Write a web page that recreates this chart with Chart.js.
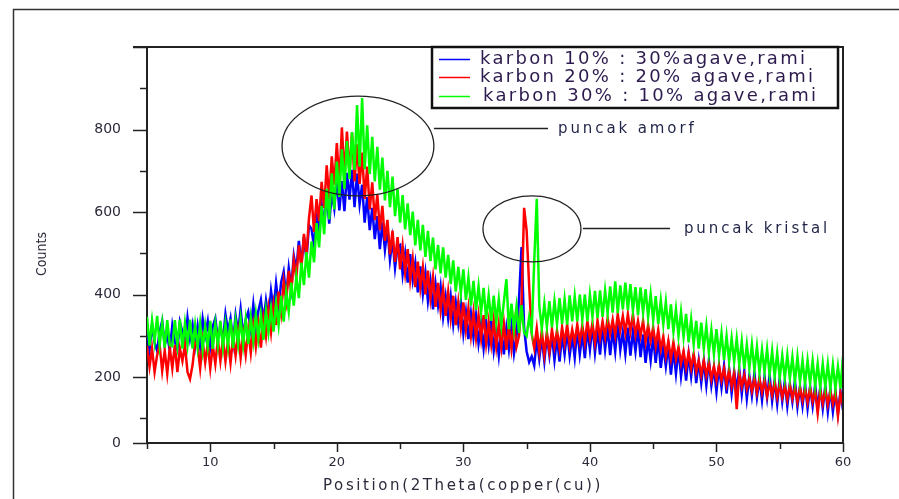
<!DOCTYPE html>
<html><head><meta charset="utf-8">
<script src="https://cdn.jsdelivr.net/npm/chart.js@4.4.0/dist/chart.umd.min.js"></script>
<style>html,body{margin:0;padding:0;background:#fff;overflow:hidden}#wrap{width:899px;height:499px;position:relative}</style>
</head><body><div id="wrap"><canvas id="c" width="899" height="499"></canvas></div>
<script>
const twoTheta = [
5,5.2,5.4,5.6,5.8,6,6.2,6.4,6.6,6.8,
7,7.2,7.4,7.6,7.8,8,8.2,8.4,8.6,8.8,
9,9.2,9.4,9.6,9.8,10,10.2,10.4,10.6,10.8,
11,11.2,11.4,11.6,11.8,12,12.2,12.4,12.6,12.8,
13,13.2,13.4,13.6,13.8,14,14.2,14.4,14.6,14.8,
15,15.2,15.4,15.6,15.8,16,16.2,16.4,16.6,16.8,
17,17.2,17.4,17.6,17.8,18,18.2,18.4,18.6,18.8,
19,19.2,19.4,19.6,19.8,20,20.2,20.4,20.6,20.8,
21,21.2,21.4,21.6,21.8,22,22.2,22.4,22.6,22.8,
23,23.2,23.4,23.6,23.8,24,24.2,24.4,24.6,24.8,
25,25.2,25.4,25.6,25.8,26,26.2,26.4,26.6,26.8,
27,27.2,27.4,27.6,27.8,28,28.2,28.4,28.6,28.8,
29,29.2,29.4,29.6,29.8,30,30.2,30.4,30.6,30.8,
31,31.2,31.4,31.6,31.8,32,32.2,32.4,32.6,32.8,
33,33.2,33.4,33.6,33.8,34,34.2,34.4,34.6,34.8,
35,35.2,35.4,35.6,35.8,36,36.2,36.4,36.6,36.8,
37,37.2,37.4,37.6,37.8,38,38.2,38.4,38.6,38.8,
39,39.2,39.4,39.6,39.8,40,40.2,40.4,40.6,40.8,
41,41.2,41.4,41.6,41.8,42,42.2,42.4,42.6,42.8,
43,43.2,43.4,43.6,43.8,44,44.2,44.4,44.6,44.8,
45,45.2,45.4,45.6,45.8,46,46.2,46.4,46.6,46.8,
47,47.2,47.4,47.6,47.8,48,48.2,48.4,48.6,48.8,
49,49.2,49.4,49.6,49.8,50,50.2,50.4,50.6,50.8,
51,51.2,51.4,51.6,51.8,52,52.2,52.4,52.6,52.8,
53,53.2,53.4,53.6,53.8,54,54.2,54.4,54.6,54.8,
55,55.2,55.4,55.6,55.8,56,56.2,56.4,56.6,56.8,
57,57.2,57.4,57.6,57.8,58,58.2,58.4,58.6,58.8,
59,59.2,59.4,59.6,59.8,60];

const blueCounts = [
310,266,327,283,264,310,336,277,303,264,
325,286,267,333,309,277,343,293,327,275,
323,274,341,300,335,274,323,342,291,322,
287,352,311,342,285,350,308,364,300,340,
358,315,376,315,360,387,335,385,339,409,
363,427,373,429,455,395,464,415,494,459,
530,471,540,485,568,559,516,603,554,619,
566,645,572,647,608,679,604,675,602,695,
630,702,612,693,619,666,574,636,556,610,
534,590,510,574,508,560,484,534,464,516,
520,449,498,429,498,435,476,405,468,401,
452,384,432,364,426,374,419,346,395,342,
395,328,381,330,381,306,357,292,353,296,
349,282,329,270,331,278,336,264,310,252,
316,255,318,267,322,257,300,390,515,320,
262,236,250,228,292,244,296,238,300,252,
302,241,296,237,302,255,312,252,299,247,
316,255,306,246,317,266,326,259,315,254,
326,266,319,253,314,262,332,265,309,256,
320,252,310,262,320,248,303,234,291,240,
297,234,295,222,275,226,277,206,267,208,
269,202,252,191,255,202,256,185,239,186,
240,180,240,180,222,164,226,175,227,160,
220,161,213,168,220,159,214,148,203,155,
210,151,196,144,201,150,205,142,192,135,
196,141,190,130,183,140,191,128,177,130,
183,124,177,130,181,122,175,124,179,116,
171,116,165,112,165,120];

const redCounts = [
275,225,269,212,253,277,215,264,208,271,
221,278,212,269,239,278,212,195,229,284,
276,221,286,235,282,221,276,232,291,239,
292,238,288,234,298,252,309,247,304,254,
313,259,325,273,327,271,343,299,365,309,
375,326,407,356,431,384,457,404,483,440,
519,465,547,493,585,640,552,631,578,673,
610,713,632,735,666,767,672,805,688,795,
694,792,674,764,668,744,632,710,606,672,
580,643,556,615,530,581,497,555,479,539,
461,518,453,510,435,486,418,480,416,466,
400,458,390,442,370,428,362,414,348,406,
342,397,326,381,320,381,315,367,301,357,
295,350,293,350,281,334,280,338,274,328,
272,330,266,326,270,332,274,300,380,610,
555,420,305,270,318,262,312,254,308,262,
315,274,313,270,321,282,327,278,315,284,
327,286,325,284,335,294,331,284,337,296,
335,297,343,305,339,301,352,313,348,307,
352,310,352,302,336,300,336,286,326,288,
320,275,314,267,298,251,287,245,285,243,
273,233,263,223,259,221,256,213,240,205,
240,204,233,195,226,192,228,192,220,182,
216,178,210,122,210,176,204,171,197,166,
196,162,197,163,192,154,185,156,188,151,
184,151,178,146,181,148,175,140,175,143,
172,139,174,141,167,112,169,136,169,133,
166,135,163,106,160,131];

const greenCounts = [
346,276,337,285,348,278,331,271,338,278,
275,338,278,339,269,330,278,339,269,326,
272,330,266,324,274,336,268,329,277,336,
272,329,275,340,270,335,280,340,279,339,
280,344,288,352,294,350,290,361,309,366,
310,379,326,397,334,405,359,429,373,443,
391,477,423,503,441,529,478,573,514,615,
546,656,582,694,606,722,636,752,656,772,
680,794,702,859,710,876,704,810,692,782,
674,758,654,732,628,700,612,686,590,656,
574,641,558,621,544,601,519,581,507,569,
491,554,481,538,461,520,451,514,441,496,
425,483,407,467,403,461,387,441,373,433,
363,420,357,416,341,398,336,397,333,388,
324,382,437,316,378,316,371,307,374,308,
300,345,310,480,632,372,318,378,322,384,
320,384,329,391,328,388,327,398,335,396,
335,400,339,400,335,400,346,409,343,410,
346,410,354,420,356,432,355,422,364,429,
362,425,361,418,350,417,356,413,346,401,
338,396,328,386,328,382,316,376,310,364,
300,358,297,353,284,340,279,336,269,332,
269,324,259,314,255,316,253,306,241,299,
238,294,237,293,230,286,220,278,221,279,
217,273,211,266,212,268,206,263,201,258,
198,252,197,253,196,248,189,249,188,240,
183,240,184,239,179,232,175,232,176,231,
172,229,172,225,172,250];

const seriesLabels = ['karbon 10% : 30%agave,rami','karbon 20% : 20% agave,rami','karbon 30% : 10% agave,rami'];
const seriesColors = ['#0000ff','#ff0000','#00ff00'];
const xTickValues = [5,10,15,20,25,30,35,40,45,50,55,60];
const xTickLabels = ['','10','','20','','30','','40','','50','','60'];
const yTickValues = [40,100,200,300,400,500,600,700,800,900,1000];
const yTickLabels = ['0','','200','','400','','600','','800','',''];
const xTitle = 'Position(2Theta(copper(cu))';
const yTitle = 'Counts';
const notes = [
  {text:'puncak amorf', cx:21.67, cy:760, rx:6.0, ry:121, x0:27.68, x1:36.69, ly:804, tx:37.48},
  {text:'puncak kristal', cx:35.42, cy:559, rx:3.87, ry:80, x0:39.45, x1:46.33, ly:561, tx:47.43}
];

const INK = '#2a2a3a';
const mk = (arr) => twoTheta.map((t, i) => ({x: t, y: arr[i]}));

const decorPlugin = {
  id: 'decor',
  afterDraw(chart) {
    const {ctx, chartArea: a, scales: {x, y}} = chart;
    ctx.save();
    // outer frame
    ctx.strokeStyle = '#333'; ctx.lineWidth = 1.5;
    ctx.beginPath(); ctx.moveTo(13.5, 499); ctx.lineTo(13.5, 9.5); ctx.lineTo(899, 9.5); ctx.stroke();
    // top + right border
    ctx.strokeStyle = '#222'; ctx.lineWidth = 2;
    ctx.beginPath(); ctx.moveTo(a.left - 14, a.top); ctx.lineTo(a.right, a.top); ctx.lineTo(a.right, a.bottom); ctx.stroke();
    // tick marks
    ctx.lineWidth = 1.5;
    yTickValues.forEach((v, i) => {
      const py = Math.round(y.getPixelForValue(v)) + 0.5;
      const major = yTickLabels[i] !== '' || i === yTickValues.length - 1;
      ctx.beginPath(); ctx.moveTo(a.left - (major ? 14 : 7), py); ctx.lineTo(a.left, py); ctx.stroke();
    });
    xTickValues.forEach((v, i) => {
      const px = Math.round(x.getPixelForValue(v)) + 0.5;
      const major = xTickLabels[i] !== '';
      ctx.beginPath(); ctx.moveTo(px, a.bottom); ctx.lineTo(px, a.bottom + (major ? 9 : 6)); ctx.stroke();
    });
    // axis titles
    ctx.fillStyle = INK;
    ctx.textAlign = 'center'; ctx.textBaseline = 'middle';
    ctx.font = '15px "DejaVu Sans", sans-serif';
    ctx.letterSpacing = '2.6px';
    ctx.fillText(xTitle, 463, 486);
    ctx.letterSpacing = '0px';
    ctx.save();
    ctx.translate(42, 254); ctx.rotate(-Math.PI / 2);
    ctx.font = '14px "Liberation Sans Narrow", "DejaVu Sans Condensed", sans-serif';
    ctx.fillText(yTitle, 0, 0);
    ctx.restore();
    ctx.textAlign = 'left';
    // annotations
    ctx.strokeStyle = '#222'; ctx.lineWidth = 1.3;
    ctx.fillStyle = '#1f2448';
    ctx.font = '15px "DejaVu Sans", sans-serif';
    notes.forEach(n => {
      const cx = x.getPixelForValue(n.cx), cy = y.getPixelForValue(n.cy);
      const rx = x.getPixelForValue(n.cx + n.rx) - cx, ry = cy - y.getPixelForValue(n.cy + n.ry);
      ctx.beginPath(); ctx.ellipse(cx, cy, rx, ry, 0, 0, Math.PI * 2); ctx.stroke();
      const ly = Math.round(y.getPixelForValue(n.ly)) + 0.5;
      ctx.beginPath(); ctx.moveTo(x.getPixelForValue(n.x0), ly); ctx.lineTo(x.getPixelForValue(n.x1), ly); ctx.stroke();
      ctx.letterSpacing = '2.9px';
      ctx.fillText(n.text, x.getPixelForValue(n.tx), ly + 1);
    });
    // legend
    const L = a.right - 411, T = a.top, W = 406, H = 61;
    ctx.fillStyle = '#fff'; ctx.fillRect(L, T, W, H);
    ctx.strokeStyle = '#111'; ctx.lineWidth = 2.5; ctx.strokeRect(L, T, W, H);
    ctx.font = '18px "DejaVu Sans", sans-serif';
    ctx.letterSpacing = '2.3px';
    const rows = [12, 30, 49];
    seriesLabels.forEach((lab, i) => {
      const ry = T + rows[i];
      ctx.strokeStyle = seriesColors[i]; ctx.lineWidth = 1.5;
      ctx.beginPath(); ctx.moveTo(L + 7, ry + 0.5); ctx.lineTo(L + 38, ry + 0.5); ctx.stroke();
      ctx.fillStyle = '#2d1b4e';
      ctx.fillText(lab, L + 48 + (i === 2 ? 3 : 0), ry);
    });
    ctx.restore();
  }
};

new Chart(document.getElementById('c'), {
  type: 'line',
  data: {
    datasets: [
      {label: seriesLabels[0], data: mk(blueCounts), borderColor: seriesColors[0], order: 3},
      {label: seriesLabels[1], data: mk(redCounts), borderColor: seriesColors[1], order: 2},
      {label: seriesLabels[2], data: mk(greenCounts), borderColor: seriesColors[2], order: 1}
    ]
  },
  options: {
    responsive: false,
    animation: false,
    devicePixelRatio: 1,
    elements: {point: {radius: 0}, line: {borderWidth: 2.5, tension: 0}},
    layout: {padding: {left: 30, right: 56, top: 47, bottom: 0}},
    plugins: {legend: {display: false}, tooltip: {enabled: false}},
    scales: {
      x: {
        type: 'linear', min: 5, max: 60,
        afterBuildTicks: s => { s.ticks = xTickValues.map(v => ({value: v})); },
        afterFit: s => { s.height = 56; },
        grid: {drawOnChartArea: false, drawTicks: false},
        border: {color: '#222', width: 2},
        ticks: {padding: 12, color: INK, autoSkip: false, maxRotation: 0,
          font: {size: 13, family: '"DejaVu Sans", sans-serif'},
          callback: (v, i) => xTickLabels[i]},
        title: {display: false}
      },
      y: {
        type: 'linear', min: 40, max: 1000,
        afterBuildTicks: s => { s.ticks = yTickValues.map(v => ({value: v})); },
        afterFit: s => { s.width = 117; },
        grid: {drawOnChartArea: false, drawTicks: false},
        border: {color: '#222', width: 2},
        ticks: {padding: 26, color: INK, autoSkip: false,
          font: {size: 14, family: '"DejaVu Sans", sans-serif'},
          callback: (v, i) => yTickLabels[i]},
        title: {display: false}
      }
    }
  },
  plugins: [decorPlugin]
});
</script>
</body></html>
